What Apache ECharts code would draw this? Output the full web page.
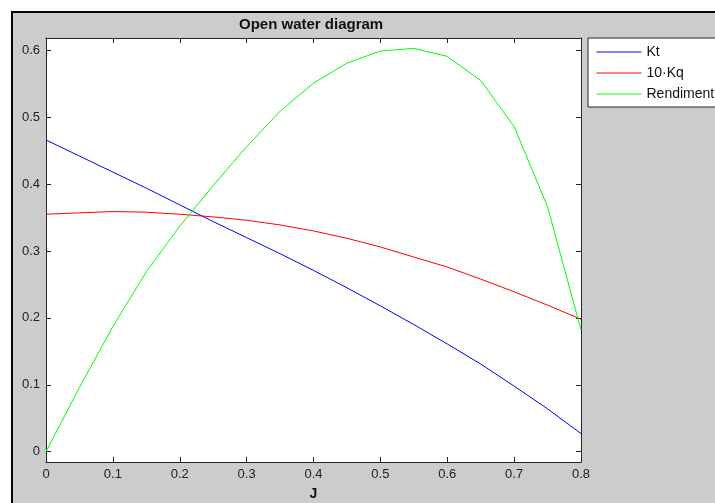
<!DOCTYPE html>
<html>
<head>
<meta charset="utf-8">
<script src="https://cdn.jsdelivr.net/npm/echarts@6/dist/echarts.min.js"></script>
<style>html,body{margin:0;padding:0;background:#fff;}#c{width:715px;height:503px;}</style>
</head>
<body>
<div id="c"></div>
<script>
const J = [0, 0.05, 0.1, 0.15, 0.2, 0.25, 0.3, 0.35, 0.4, 0.45, 0.5, 0.55, 0.6, 0.65, 0.7, 0.75, 0.8];
const Kt = [0.466, 0.442, 0.418, 0.394, 0.369, 0.344, 0.320, 0.296, 0.271, 0.245, 0.218, 0.190, 0.161, 0.131, 0.098, 0.064, 0.027];
const Kq10 = [0.355, 0.357, 0.359, 0.358, 0.355, 0.351, 0.346, 0.339, 0.330, 0.319, 0.306, 0.291, 0.276, 0.258, 0.239, 0.219, 0.198];
const Rendiment = [0, 0.096, 0.187, 0.269, 0.337, 0.398, 0.456, 0.509, 0.551, 0.581, 0.599, 0.603, 0.591, 0.555, 0.486, 0.366, 0.182];
const yTicks = [0, 0.1, 0.2, 0.3, 0.4, 0.5, 0.6];
const names = ['Kt', '10\u00b7Kq', 'Rendiment'];

const chart = echarts.init(document.getElementById('c'), null, {renderer: 'canvas'});
const axisCol = '#262626';
const font = 'Arial, "Liberation Sans", sans-serif';
const pair = (ys) => J.map((x, i) => [x, ys[i]]);

const xBase = {
  type: 'value', min: 0, max: 0.8, interval: 0.1,
  axisLine: {show: true, onZero: false, lineStyle: {color: axisCol, width: 1}},
  axisTick: {show: true, inside: true, length: 5, lineStyle: {color: axisCol}},
  splitLine: {show: false}
};
const yBase = {
  type: 'value', min: -0.0155, max: 0.6185,
  axisLine: {show: true, onZero: false, lineStyle: {color: axisCol, width: 1}},
  axisTick: {show: true, inside: true, length: 5, customValues: yTicks, lineStyle: {color: axisCol}},
  splitLine: {show: false}
};

chart.setOption({
  animation: false,
  backgroundColor: '#ffffff',
  graphic: [{
    type: 'rect', z: -10, silent: true,
    shape: {x: 12, y: 12, width: 720, height: 520},
    style: {fill: '#cccccc', stroke: '#000', lineWidth: 2}
  }],
  title: {
    text: 'Open water diagram', left: 234, top: 12,
    textStyle: {fontFamily: font, fontSize: 15, fontWeight: 'bold', color: '#111'}
  },
  grid: {left: 46, top: 38, right: 134, bottom: 41, show: true, backgroundColor: '#ffffff', borderWidth: 0, containLabel: false, outerBoundsMode: 'none'},
  legend: {
    orient: 'vertical', left: 588, top: 38,
    data: names,
    backgroundColor: '#ffffff', borderColor: '#262626', borderWidth: 1, borderRadius: 0,
    padding: [7, 100, 6, 8],
    itemWidth: 45, itemHeight: 14, itemGap: 7,
    itemStyle: {opacity: 0},
    lineStyle: {width: 1},
    textStyle: {fontFamily: font, fontSize: 14, color: '#111', lineHeight: 14}
  },
  xAxis: [
    Object.assign({}, xBase, {
      position: 'bottom',
      axisLabel: {show: true, margin: 6, fontFamily: font, fontSize: 13, color: '#222'},
      name: 'J', nameLocation: 'middle', nameGap: 25,
      nameTextStyle: {fontFamily: font, fontSize: 14, fontWeight: 'bold', color: '#111'}
    }),
    Object.assign({}, xBase, {position: 'top', axisLabel: {show: false}})
  ],
  yAxis: [
    Object.assign({}, yBase, {
      position: 'left',
      axisLabel: {show: true, customValues: yTicks, margin: 6, fontFamily: font, fontSize: 13, color: '#222'}
    }),
    Object.assign({}, yBase, {position: 'right', axisLabel: {show: false}})
  ],
  series: [
    {name: names[0], type: 'line', data: pair(Kt), symbol: 'none', lineStyle: {color: '#0000ff', width: 1}, itemStyle: {color: '#0000ff'}},
    {name: names[1], type: 'line', data: pair(Kq10), symbol: 'none', lineStyle: {color: '#ff0000', width: 1}, itemStyle: {color: '#ff0000'}},
    {name: names[2], type: 'line', data: pair(Rendiment), symbol: 'none', lineStyle: {color: '#00ff00', width: 1}, itemStyle: {color: '#00ff00'}}
  ]
});
</script>
</body>
</html>
